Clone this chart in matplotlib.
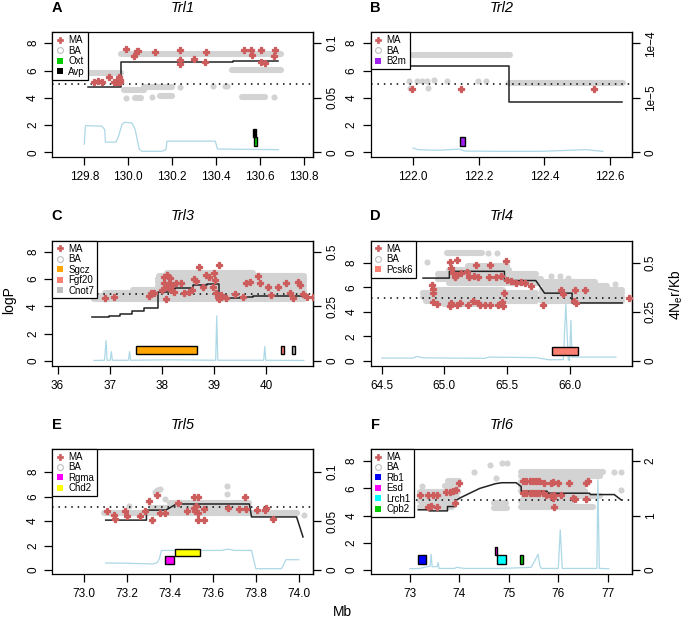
import numpy as np
import matplotlib.pyplot as plt
from matplotlib.lines import Line2D
from matplotlib.patches import Rectangle

plt.rcParams['font.family'] = ['Liberation Sans', 'DejaVu Sans']
plt.rcParams['mathtext.fontset'] = 'custom'
plt.rcParams['mathtext.rm'] = 'Liberation Sans'
plt.rcParams['axes.linewidth'] = 0.9

#################### A  Trl1
a_ma = [(129.843, 5.19), (129.862, 5.26), (129.880, 5.19), (129.911, 5.55), (129.934, 5.14),
        (129.949, 5.19), (129.956, 5.55), (129.964, 5.31), (129.962, 5.14), (129.990, 7.56),
        (130.025, 7.05), (130.040, 7.44), (130.046, 7.44), (130.120, 7.37), (130.234, 7.49),
        (130.237, 6.76), (130.237, 6.47), (130.298, 6.81), (130.348, 6.59), (130.354, 7.37),
        (130.526, 7.49), (130.559, 7.49), (130.564, 7.13), (130.606, 7.49), (130.606, 6.59),
        (130.625, 6.52), (130.668, 7.49), (130.663, 7.05)]
a_ba = [(129.99, 3.98), (130.108, 4.08), (130.237, 4.78), (130.386, 4.87), (130.442, 4.87),
        (130.452, 4.87), (130.663, 4.05)]
# runs of BA snps sharing one logP: (start, end, logP)
a_ba_runs = [(129.81, 129.965, 5.82), (129.965, 130.695, 7.22), (130.475, 130.695, 6.07),
             (129.98, 130.07, 4.6), (130.07, 130.2, 4.78), (130.03, 130.06, 4.02),
             (130.145, 130.2, 4.12), (130.52, 130.625, 4.05)]
a_ld_x = [129.817, 129.969, 129.969, 130.48, 130.48, 130.685]
a_ld_y = [4.78, 4.78, 6.6, 6.6, 6.68, 6.68]
a_rate_x = [129.8, 129.805, 129.88, 129.893, 129.896, 129.944, 129.956, 129.972, 129.984, 130.017,
            130.032, 130.044, 130.051, 130.063, 130.154, 130.172, 130.177, 130.397, 130.407, 130.685]
a_rate = [0.0075, 0.0245, 0.024, 0.0209, 0.0094, 0.0094, 0.0149, 0.0255, 0.0276, 0.027,
          0.0209, 0.0088, 0.0028, 0.001, 0.001, 0.0025, 0.0103, 0.0103, 0.0031, 0.0025]
a_genes = ['Oxt', 'Avp']
a_gene_start = [130.574, 130.571]
a_gene_end = [130.587, 130.582]
a_gene_row = [0, 1]

#################### B  Trl2
b_ma = [(121.998, 4.63), (122.145, 4.63), (122.550, 4.63)]
b_ba = [(121.988, 5.2), (121.99, 4.72), (122.013, 5.2), (122.027, 5.2), (122.043, 5.2),
        (122.046, 4.72), (122.063, 5.27), (122.103, 5.2), (122.198, 5.2), (122.221, 5.2)]
b_ba_runs = [(121.988, 122.294, 7.12), (122.292, 122.639, 5.12)]
b_ld_x = [121.95, 122.292, 122.292, 122.636]
b_ld_y = [6.31, 6.31, 3.67, 3.67]
b_rate_x = [122.0, 122.015, 122.071, 122.142, 122.157, 122.274, 122.395, 122.527, 122.578]
b_rate = [4.0e-6, 2.5e-6, 1.9e-6, 3.0e-6, 1.25e-6, 0.9e-6, 1.0e-6, 2.5e-6, 0.9e-6]
b_genes = ['B2m']
b_gene_start = [122.144]
b_gene_end = [122.157]
b_gene_row = [0]

#################### C  Trl3
c_ma = [(36.913, 4.59), (37.074, 4.66), (37.749, 4.76), (37.794, 4.95), (37.846, 5.0),
        (38.071, 4.51), (38.006, 5.2), (38.039, 5.68), (38.071, 5.44), (38.103, 6.29),
        (38.148, 6.05), (38.039, 6.17), (38.135, 5.73), (38.199, 5.56), (38.167, 5.2),
        (38.232, 5.07), (38.277, 5.68), (38.36, 5.68), (38.424, 4.95), (38.521, 5.07),
        (38.585, 5.2), (38.701, 6.9), (38.617, 5.98), (38.65, 5.88), (38.778, 5.44),
        (38.842, 6.29), (38.907, 6.17), (39.003, 6.41), (39.023, 5.93), (38.971, 5.44),
        (39.035, 4.95), (39.068, 4.71), (39.1, 7.02), (39.1, 4.51), (39.132, 4.83),
        (39.228, 4.59), (39.408, 4.88), (39.55, 4.66), (39.614, 5.68), (39.678, 5.8),
        (39.839, 6.22), (39.871, 5.68), (40.032, 5.44), (40.096, 4.83), (40.225, 5.44),
        (40.386, 5.68), (40.463, 4.95), (40.502, 4.59), (40.611, 5.8), (40.643, 5.56),
        (40.695, 4.9), (40.785, 4.66), (40.9, 4.66)]
c_ba = []
c_ba_runs = [(36.7, 40.72, 4.5), (36.7, 40.72, 4.75), (36.9, 40.72, 5.0), (37.45, 40.72, 5.22),
             (37.93, 40.72, 5.5), (37.93, 40.72, 5.75), (37.93, 40.72, 6.0), (37.95, 40.72, 6.25),
             (38.1, 39.75, 6.45)]
c_ld_x = [36.67, 36.98, 36.98, 37.20, 37.20, 37.43, 37.43, 37.65, 37.65, 37.93, 37.93, 38.14, 38.14,
          38.25, 38.25, 38.59, 38.59, 38.87, 38.87, 39.10, 39.10, 39.49, 39.49, 39.74, 39.74, 40.72]
c_ld_y = [3.2, 3.2, 3.27, 3.27, 3.42, 3.42, 3.65, 3.65, 3.85, 3.85, 5.05, 5.05, 5.25,
          5.25, 5.35, 5.35, 5.55, 5.55, 5.65, 5.65, 4.62, 4.62, 4.7, 4.7, 4.77, 4.77]
c_rate_x = [36.7, 36.9, 36.93, 36.95, 37.01, 37.03, 37.05, 37.36, 37.38, 37.4, 38.1,
            39.03, 39.05, 39.07, 39.95, 39.97, 39.99, 40.72]
c_rate = [0.002, 0.003, 0.093, 0.003, 0.003, 0.0425, 0.003, 0.003, 0.0425, 0.003, 0.005,
          0.003, 0.206, 0.003, 0.003, 0.066, 0.003, 0.002]
c_genes = ['Sgcz', 'Fgf20', 'Cnot7']
c_gene_start = [37.50, 40.29, 40.50]
c_gene_end = [38.67, 40.34, 40.55]
c_gene_row = [0, 0, 0]

#################### D  Trl4
d_ma = [(64.898, 6.2), (64.906, 5.85), (64.911, 5.52), (64.911, 4.76), (64.938, 4.65),
        (65.044, 8.03), (65.103, 8.24), (65.057, 7.56), (65.071, 7.16), (65.084, 6.83),
        (65.103, 7.02), (65.137, 7.16), (65.177, 7.21), (65.198, 6.83), (65.235, 6.88),
        (65.251, 7.84), (65.27, 6.83), (65.357, 6.83), (65.368, 7.84), (65.416, 6.83),
        (65.456, 6.88), (65.49, 8.11), (65.501, 6.61), (65.535, 6.48), (65.575, 6.34),
        (65.615, 6.39), (65.642, 6.34), (65.695, 6.07), (65.044, 4.44), (65.057, 4.71),
        (65.103, 4.57), (65.124, 4.71), (65.19, 4.57), (65.23, 4.84), (65.27, 4.71),
        (65.283, 4.57), (65.323, 4.57), (65.363, 4.57), (65.429, 4.57), (65.464, 4.79),
        (65.474, 5.52), (65.469, 4.44), (65.788, 4.57), (65.934, 5.8), (65.947, 5.47),
        (66.032, 4.84), (66.048, 4.71), (66.04, 5.8), (66.12, 5.75), (66.478, 5.12)]
d_ba = [(64.86, 8.05), (65.35, 8.78), (65.42, 8.78), (65.85, 6.95), (65.92, 6.95),
        (65.99, 6.75), (66.36, 6.3)]
d_ba_runs = [(65.02, 65.30, 8.78), (65.19, 65.50, 7.75), (65.04, 65.52, 7.4), (64.95, 65.73, 7.05),
             (64.95, 65.77, 6.7), (65.04, 65.77, 6.35), (64.94, 65.47, 5.8), (64.83, 65.73, 5.5),
             (64.83, 65.73, 5.2), (64.85, 65.73, 4.9), (65.0, 65.47, 4.6),
             (65.8, 66.2, 6.4), (65.8, 66.3, 6.1), (65.78, 66.42, 5.8), (65.78, 66.42, 5.5),
             (65.78, 66.42, 5.2), (65.78, 66.42, 4.9)]
d_ld_x = [64.83, 65.04, 65.04, 65.48, 65.48, 65.73, 65.80, 66.02, 66.02, 66.42]
d_ld_y = [6.75, 6.75, 7.3, 7.3, 6.55, 6.55, 5.52, 5.52, 4.72, 4.72]
d_rate_x = [64.5, 64.75, 64.78, 64.83, 65.32, 65.36, 65.73, 65.84, 65.95, 65.97, 65.99, 66.0,
            66.01, 66.02, 66.37]
d_rate = [0.014, 0.014, 0.022, 0.015, 0.0125, 0.019, 0.016, 0.005, 0.006, 0.2875, 0.003, 0.003,
          0.206, 0.019, 0.019]
d_genes = ['Pcsk6']
d_gene_start = [65.86]
d_gene_end = [66.07]
d_gene_row = [0]

#################### E  Trl5
e_ma = [(73.106, 4.79), (73.137, 4.52), (73.145, 4.19), (73.188, 4.79), (73.199, 4.38),
        (73.261, 4.38), (73.285, 4.79), (73.3, 5.61), (73.316, 4.11), (73.339, 6.15),
        (73.355, 4.65), (73.378, 4.65), (73.437, 5.47), (73.479, 4.84), (73.51, 6.01),
        (73.53, 6.01), (73.51, 5.06), (73.521, 5.2), (73.518, 4.79), (73.53, 4.65),
        (73.53, 4.11), (73.557, 4.11), (73.557, 5.0), (73.67, 5.06), (73.723, 5.0),
        (73.748, 6.01), (73.754, 5.0), (73.806, 4.93), (73.841, 4.93), (73.848, 5.06),
        (73.879, 4.19)]
e_ba = [(73.207, 5.2), (73.339, 6.56), (73.355, 6.64), (73.331, 6.42), (73.375, 5.82),
        (73.666, 6.2), (73.666, 6.91), (74.023, 4.52)]
e_ba_runs = [(73.09, 73.99, 4.7), (73.31, 73.77, 5.05), (73.40, 73.77, 5.5)]
e_ld_x = [73.10, 73.29, 73.29, 73.38, 73.43, 73.77, 73.78, 73.99, 74.02]
e_ld_y = [4.08, 4.08, 4.9, 4.9, 5.4, 5.4, 4.34, 4.34, 2.7]
e_rate_x = [73.1, 73.2, 73.32, 73.34, 73.35, 73.36, 73.64, 73.67, 73.7, 73.78, 73.8, 73.92,
            73.94, 74.0]
e_rate = [0.0071, 0.0069, 0.0061, 0.0075, 0.0113, 0.02, 0.02, 0.0213, 0.02, 0.02, 0.0013,
          0.0013, 0.0105, 0.0105]
e_genes = ['Rgma', 'Chd2']
e_gene_start = [73.375, 73.425]
e_gene_end = [73.417, 73.541]
e_gene_row = [0, 1]

#################### F  Trl6
f_ma = [(73.2, 5.53), (73.37, 5.53), (73.47, 5.53), (73.54, 5.53), (73.37, 4.67), (73.42, 4.72),
        (73.54, 4.6), (73.74, 5.77), (73.81, 5.77), (73.87, 5.82), (73.93, 5.89), (73.99, 6.38),
        (73.91, 4.95),
        (75.29, 6.58), (75.35, 6.58), (75.42, 6.58), (75.49, 6.58), (75.55, 6.58), (75.62, 6.58),
        (75.72, 6.43), (75.86, 6.43), (75.9, 6.5), (75.99, 6.4), (76.21, 6.43), (76.56, 6.43),
        (76.6, 6.58),
        (75.29, 5.7), (75.35, 5.7), (75.42, 5.7), (75.49, 5.7), (75.55, 5.7), (75.62, 5.7),
        (75.69, 5.7), (75.76, 5.53), (75.86, 5.45), (75.92, 5.53), (76.06, 5.53), (76.29, 5.3),
        (75.89, 5.28), (76.33, 5.21), (76.56, 5.21), (75.92, 4.6)]
f_ba = [(73.24, 6.2), (74.29, 7.2), (74.62, 7.7), (74.86, 7.88), (74.97, 7.88), (74.75, 6.74),
        (77.12, 7.2), (77.27, 7.2), (77.27, 5.9)]
f_ba_runs = [(73.72, 73.98, 6.15), (73.78, 74.0, 6.55), (73.2, 73.97, 5.77), (73.2, 73.95, 5.4),
             (73.2, 73.92, 5.05), (73.2, 73.85, 4.6), (74.7, 74.95, 4.95), (74.7, 74.97, 4.55),
             (75.25, 76.9, 7.2), (75.25, 76.85, 6.9), (75.25, 76.6, 6.5), (75.25, 76.5, 6.15),
             (75.25, 76.55, 5.8), (75.3, 76.85, 5.45), (75.25, 76.3, 5.05), (75.25, 76.7, 4.6)]
f_ld_x = [73.17, 73.39, 73.39, 73.76, 73.76, 73.93, 73.93, 74.04, 74.41, 74.73, 74.86, 75.15,
          75.25, 75.25, 75.77, 75.8, 76.63, 76.65, 77.13, 77.27]
f_ld_y = [4.43, 4.43, 4.35, 4.35, 4.67, 4.67, 5.12, 5.35, 6.0, 6.35, 6.42, 6.42,
          6.14, 5.8, 5.8, 5.65, 5.65, 5.55, 5.55, 5.16]
f_rate_x = [73.0, 73.2, 73.37, 73.41, 73.43, 73.45, 73.55, 73.57, 73.59, 73.9, 73.95, 74.1, 74.8,
            75.1, 75.45, 75.52, 75.59, 75.63, 75.66, 76.0, 76.04, 76.08, 76.78, 76.8, 76.83, 77.02]
f_rate = [0.025, 0.03, 0.0675, 0.075, 0.29, 0.0625, 0.0625, 0.14, 0.03, 0.03, 0.05, 0.03, 0.03,
          0.0375, 0.05, 0.16, 0.29, 0.075, 0.03, 0.03, 0.74, 0.03, 0.03, 1.66, 0.03, 0.025]
f_genes = ['Rb1', 'Esd', 'Lrch1', 'Cpb2']
f_gene_start = [73.17, 74.73, 74.76, 75.23]
f_gene_end = [73.32, 74.76, 74.95, 75.29]
f_gene_row = [0, 1, 0, 0]

RED = '#CD5C5C'
GRAY = '#D3D3D3'
BLUE = '#ADD8E6'
GENE_COL = {'Oxt': '#00CD00', 'Avp': 'black', 'B2m': '#A020F0', 'Sgcz': '#FFA500',
            'Fgf20': '#FA8072', 'Cnot7': '#BEBEBE', 'Pcsk6': '#FA8072', 'Rgma': '#FF00FF',
            'Chd2': '#FFFF00', 'Rb1': '#0000FF', 'Esd': '#FF00FF', 'Lrch1': '#00FFFF',
            'Cpb2': '#00CD00'}
GENE_Y = [(0.48, 1.12), (1.12, 1.72)]
TS = 8.5


def panel(ax, letter, title, ma, ba, ba_runs, ld_x, ld_y, rate_x, rate, k,
          genes, g0, g1, grow, thr, xlim, ylim, xticks, xfmt, rticks, rlabels):
    for x0, x1, y in ba_runs:
        ax.plot([x0, x1], [y, y], color=GRAY, lw=4.4, solid_capstyle='round', zorder=1)
    if ba:
        bx, by = zip(*ba)
        ax.plot(bx, by, 'o', color=GRAY, ms=4.4, mew=0, zorder=1)
    ax.axhline(thr, color='black', lw=1.1, ls=(0, (1, 3.2)), zorder=2)
    ax.plot(ld_x, ld_y, color='#222222', lw=1.1, zorder=2.5)
    mx, my = zip(*ma)
    ax.plot(mx, my, 'P', color=RED, ms=5.0, mew=0.9, mec=RED, zorder=3)
    ax.plot(rate_x, np.array(rate) / k, color=BLUE, lw=0.9, zorder=3.5)
    for g, s, e, r in zip(genes, g0, g1, grow):
        y0, y1 = GENE_Y[r]
        ax.add_patch(Rectangle((s, y0), e - s, y1 - y0, facecolor=GENE_COL[g],
                               edgecolor='black', lw=1.0, zorder=4))

    ax.set_xlim(xlim)
    ax.set_ylim(ylim)
    ax.set_xticks(xticks, [xfmt.format(t) for t in xticks], fontsize=TS)
    ax.set_yticks([0, 2, 4, 6, 8], ['0', '2', '4', '6', '8'], rotation=90, va='center', fontsize=TS)
    ax.tick_params(direction='out', length=5.5, width=0.9, pad=4)
    ax.tick_params(axis='x', pad=4.5)

    sec = ax.secondary_yaxis('right', functions=(lambda y: y * k, lambda y: y / k))
    sec.set_yticks(rticks, rlabels, rotation=90, va='center', fontsize=TS)
    sec.tick_params(direction='out', length=5.5, width=0.9, pad=4)
    sec.spines['right'].set_linewidth(0.9)

    handles = [Line2D([], [], ls='none', marker='P', color=RED, ms=4, mew=0.5, mec=RED),
               Line2D([], [], ls='none', marker='o', mfc='none', mec='#BEBEBE', ms=4.2, mew=0.8)]
    handles += [Line2D([], [], ls='none', marker='s', color=GENE_COL[g], ms=3.8, mew=0) for g in genes]
    leg = ax.legend(handles, ['MA', 'BA'] + genes, loc='upper left', bbox_to_anchor=(0, 1),
                    borderaxespad=0, fontsize=7, frameon=True, fancybox=False,
                    edgecolor='black', framealpha=1, handlelength=0.9, handletextpad=0.45,
                    borderpad=0.3, labelspacing=0.05)
    leg.get_frame().set_linewidth(0.9)
    leg.set_zorder(10)

    ax.text(0.018, 1.195, letter, transform=ax.transAxes, ha='center', va='center',
            fontsize=10.5, weight='bold')
    ax.text(0.5, 1.195, title, transform=ax.transAxes, ha='center', va='center',
            fontsize=10.5, style='italic')


fig = plt.figure(figsize=(6.85, 6.28), dpi=100)
W, H = 261 / 685, 125 / 628
lefts = [52.3 / 685, 370.7 / 685]
bottoms = [1 - 157.3 / 628, 1 - 365.7 / 628, 1 - 574 / 628]
axs = [[fig.add_axes([l, b, W, H]) for l in lefts] for b in bottoms]

panel(axs[0][0], 'A', 'Trl1', a_ma, a_ba, a_ba_runs, a_ld_x, a_ld_y, a_rate_x, a_rate, 0.0125,
      a_genes, a_gene_start, a_gene_end, a_gene_row, 5.03,
      (129.654, 130.844), (-0.36, 8.8), [129.8, 130.0, 130.2, 130.4, 130.6, 130.8], '{:.1f}',
      [0, 0.05, 0.1], ['0', '0.05', '0.1'])
panel(axs[0][1], 'B', 'Trl2', b_ma, b_ba, b_ba_runs, b_ld_x, b_ld_y, b_rate_x, b_rate, 1.25e-5,
      b_genes, b_gene_start, b_gene_end, b_gene_row, 5.03,
      (121.871, 122.666), (-0.36, 8.8), [122.0, 122.2, 122.4, 122.6], '{:.1f}',
      [0, 5e-5, 1e-4], ['0', '1e\u22125', '1e\u22124'])
panel(axs[1][0], 'C', 'Trl3', c_ma, c_ba, c_ba_runs, c_ld_x, c_ld_y, c_rate_x, c_rate, 0.0625,
      c_genes, c_gene_start, c_gene_end, c_gene_row, 4.88,
      (35.9, 40.9), (-0.35, 8.8), [36, 37, 38, 39, 40], '{:d}',
      [0, 0.25, 0.5], ['0', '0.25', '0.5'])
panel(axs[1][1], 'D', 'Trl4', d_ma, d_ba, d_ba_runs, d_ld_x, d_ld_y, d_rate_x, d_rate, 0.0625,
      d_genes, d_gene_start, d_gene_end, d_gene_row, 5.12,
      (64.412, 66.496), (-0.4, 9.8), [64.5, 65.0, 65.5, 66.0], '{:.1f}',
      [0, 0.25, 0.5], ['0', '0.25', '0.5'])
panel(axs[2][0], 'E', 'Trl5', e_ma, e_ba, e_ba_runs, e_ld_x, e_ld_y, e_rate_x, e_rate, 0.0125,
      e_genes, e_gene_start, e_gene_end, e_gene_row, 5.17,
      (72.851, 74.068), (-0.33, 9.9), [73.0, 73.2, 73.4, 73.6, 73.8, 74.0], '{:.1f}',
      [0, 0.05, 0.1], ['0', '0.05', '0.1'])
panel(axs[2][1], 'F', 'Trl6', f_ma, f_ba, f_ba_runs, f_ld_x, f_ld_y, f_rate_x, f_rate, 0.25,
      f_genes, f_gene_start, f_gene_end, f_gene_row, 5.16,
      (72.208, 77.484), (-0.29, 8.9), [73, 74, 75, 76, 77], '{:d}',
      [0, 1, 2], ['0', '1', '2'])

fig.text(0.013, 0.522, 'logP', rotation=90, ha='center', va='center', fontsize=10)
fig.text(0.987, 0.53, r'4N$_\mathrm{e}$r/Kb', rotation=90, ha='center', va='center', fontsize=10)
fig.text(0.4993, 0.0255, 'Mb', ha='center', va='center', fontsize=10)

fig.savefig('out.png', dpi=100)
